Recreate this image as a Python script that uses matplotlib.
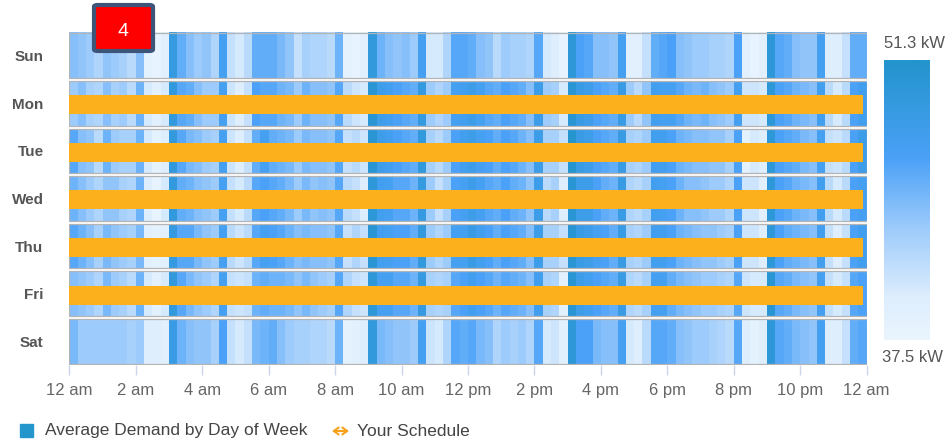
import matplotlib
matplotlib.use("Agg")
import matplotlib.pyplot as plt
import numpy as np
from matplotlib.colors import LinearSegmentedColormap
from matplotlib.patches import Rectangle, FancyBboxPatch, FancyArrowPatch

plt.rcParams['font.family'] = ['Liberation Sans', 'DejaVu Sans']

days = ["Sun", "Mon", "Tue", "Wed", "Thu", "Fri", "Sat"]
tick_labels = ["12 am", "2 am", "4 am", "6 am", "8 am", "10 am", "12 pm",
               "2 pm", "4 pm", "6 pm", "8 pm", "10 pm", "12 am"]
schedule_days = ["Mon", "Tue", "Wed", "Thu", "Fri"]
schedule_start = 0.0
schedule_end = 23.9
vmin, vmax = 37.5, 51.3

# Average demand (kW), 15-minute intervals, 96 per day
sun = [44, 43.5, 43, 42, 43.5, 43, 42.5, 41.5, 44, 38.5, 38, 39, 49, 45.5, 44, 43, 43.5, 42, 47, 41, 40, 41.5, 45.5, 45.5,
       45.5, 44.5, 43.5, 41, 42.5, 42, 42, 41.5, 45, 38.5, 38, 39, 49.5, 45, 44, 43.5, 44, 43, 47, 40, 40, 42, 46, 46,
       45.5, 44, 43.5, 41.5, 43, 42.5, 42.5, 42, 46, 40, 39.5, 38, 50, 46.5, 46, 44, 44, 43.5, 47, 39, 39, 41, 45.5, 46,
       46.5, 44, 43.5, 43, 43, 42.5, 42.5, 42, 46.5, 39, 38, 39, 50, 46, 45.5, 44, 43.5, 43.5, 47, 39.5, 39.5, 41, 45.5, 45.5]
mon = [43, 44, 42.5, 42, 44, 42.5, 43, 41.5, 45, 40, 39, 40, 49.5, 46, 45.5, 44, 43, 43, 47, 40.5, 39.5, 41, 46.5, 46,
       46, 45, 44.5, 43, 45, 44, 44, 43.5, 46, 41.5, 40.5, 40, 50.5, 48, 47.5, 46.5, 46, 45.5, 49, 43, 42, 43, 47, 47.5,
       48, 47, 46, 45.5, 46.5, 46, 45.5, 44, 48, 43, 42.5, 40, 50.5, 48.5, 48, 46.5, 46, 45.5, 48.5, 43, 41.5, 43.5, 47.5, 47,
       47, 46, 45, 44.5, 45, 44, 43.5, 43, 47, 40.5, 40.5, 40, 50, 46.5, 46, 45, 44.5, 44, 47.5, 41.5, 40, 41.5, 46.5, 47.5]
tue = [46, 44, 43.5, 41.5, 45, 43, 42.5, 42.5, 45, 40, 38.5, 39.5, 49.5, 46, 44.5, 44, 43, 42.5, 47, 40.5, 39.5, 41, 45.5, 47,
       45.5, 45, 44.5, 43, 44.5, 44, 44, 43.5, 46, 41, 41.5, 40.5, 50.5, 48, 47.5, 46.5, 46, 45.5, 49.5, 42.5, 41.5, 43, 46.5, 47.5,
       48, 47, 46.5, 45.5, 46.5, 46, 45, 44, 48, 42.5, 42.5, 41, 51, 48.5, 48, 46.5, 46, 45.5, 48.5, 42.5, 42, 43, 47.5, 47.5,
       46.5, 45, 44.5, 44, 44, 43.5, 43.5, 42.5, 46.5, 38.5, 40, 39.5, 50, 46.5, 46, 45.5, 44.5, 44, 47, 41, 40.5, 41.5, 46.5, 48]
wed = [45, 44, 43, 42, 43.5, 43.5, 42.5, 42, 45, 39.5, 38, 40, 49.5, 45.5, 45, 44, 43.5, 43, 47, 41, 40, 41.5, 46, 46.5,
       46, 45.5, 44.5, 43, 44.5, 43.5, 44, 43.5, 46, 41.5, 41, 39.5, 50, 47.5, 47, 46, 46, 45, 49, 43, 41, 42.5, 46.5, 47,
       48, 47, 46, 45.5, 46.5, 45.5, 45, 43.5, 48, 41.5, 42.5, 39.5, 50.5, 48, 48, 46.5, 45.5, 45, 48.5, 42, 41.5, 42.5, 47.5, 47,
       46.5, 45, 44, 44, 43.5, 43, 43, 42, 46.5, 40.5, 40.5, 39, 50, 46.5, 46, 45, 44.5, 44, 47.5, 41.5, 40, 41.5, 46.5, 47]
thu = [46, 45, 44, 42.5, 44.5, 43.5, 43, 42.5, 44.5, 39, 38.5, 39, 49, 46, 46, 44.5, 43.5, 43, 47, 41.5, 40.5, 41.5, 46, 47,
       46.5, 46, 45, 44, 44.5, 44, 44, 43.5, 46, 41, 42, 41, 50.5, 47.5, 47, 46.5, 46.5, 45.5, 49.5, 43, 42, 43, 47, 47,
       48.5, 47.5, 46.5, 45.5, 46.5, 46, 45.5, 44, 48, 42.5, 42.5, 41, 50.5, 48.5, 48, 47, 46.5, 45.5, 48.5, 42.5, 42, 43, 47.5, 47.5,
       46.5, 45, 44.5, 44, 43.5, 43.5, 43, 42.5, 46.5, 40.5, 40.5, 39.5, 50, 46.5, 45.5, 45, 44.5, 44, 47.5, 41, 39.5, 41, 46.5, 47.5]
fri = [44, 43.5, 43, 42, 44.5, 43, 42.5, 41.5, 45, 40, 39, 40, 49.5, 46, 44.5, 43.5, 43, 42, 47, 41, 40.5, 41, 45, 45.5,
       45, 45, 44.5, 43.5, 44.5, 43.5, 43, 42.5, 46, 42, 41, 40.5, 50, 47, 47, 46, 46, 45, 49, 42.5, 42, 42.5, 46, 46.5,
       47.5, 46.5, 46, 45, 46, 45.5, 45, 44, 47.5, 42.5, 42, 39, 50.5, 48, 47.5, 46.5, 46, 45.5, 48.5, 42, 41.5, 42.5, 47, 47,
       45.5, 44.5, 44, 43.5, 43, 43, 42.5, 42, 46, 40.5, 40, 40, 50.5, 46, 45.5, 44.5, 44, 43.5, 47, 41, 40, 41, 46, 46.5]
sat = [44.5, 43, 43, 43, 43, 43, 43, 42.5, 43, 39.5, 39.5, 39, 48.5, 45, 44, 43.5, 43.5, 42.5, 46.5, 41, 40, 41, 44.5, 45,
       45.5, 44, 43, 42.5, 42.5, 42, 42, 41.5, 45, 38.5, 39, 39.5, 49.5, 44.5, 44, 43.5, 43.5, 43, 47, 40.5, 40, 42, 46, 45.5,
       46, 44.5, 44, 42, 43, 42.5, 43, 42, 46, 40, 40.5, 39, 50, 46.5, 46.5, 44.5, 44, 44, 47, 40, 39.5, 41.5, 46, 46,
       45.5, 44, 43.5, 43, 43, 42.5, 42, 41.5, 46, 39.5, 38.5, 39.5, 50, 46, 45.5, 44.5, 44, 43.5, 47, 39.5, 39.5, 41, 45.5, 46]

W, H = 951, 443
fig = plt.figure(figsize=(W / 100, H / 100), dpi=100)

def fx(px):
    return px / W

def fy(py):
    return 1 - py / H

cmap = LinearSegmentedColormap.from_list(
    "demand", [(0.0, "#eaf5fe"), (0.15, "#deeefd"), (0.4, "#9dcbfb"),
               (0.65, "#4ba1f7"), (1.0, "#2394cc")])

ax = fig.add_axes([fx(69.3), fy(365), fx(866.7) - fx(69.3), fy(32) - fy(365)])
data = np.array([sun, mon, tue, wed, thu, fri, sat], dtype=float)
xedges = np.linspace(0, 24, data.shape[1] + 1)
yedges = np.arange(len(days) + 1)
ax.pcolormesh(xedges, yedges, data, cmap=cmap, vmin=vmin, vmax=vmax, shading="flat")
ax.set_xlim(0, 24)
ax.set_ylim(len(days), 0)

# row separators
for i in range(1, len(days)):
    ax.axhline(i, color="white", lw=2.2, zorder=3)
for i in range(len(days)):
    ax.add_patch(Rectangle((0, i + 0.03), 24, 0.94, fill=False,
                           edgecolor="#b4b4b4", lw=0.9, zorder=4))

# schedule bars
for d in schedule_days:
    i = days.index(d)
    ax.barh(i + 0.53, schedule_end - schedule_start, left=schedule_start,
            height=0.40, color="#fbb01c", zorder=5)

for s in ax.spines.values():
    s.set_visible(False)
ax.set_xticks(np.arange(0, 25, 2))
ax.set_xticklabels(tick_labels, fontsize=12, color="#666666")
ax.tick_params(axis="x", length=7, width=1, color="#ccd6eb", pad=6)
ax.set_yticks(np.arange(len(days)) + 0.5)
ax.set_yticklabels(days, fontsize=11, fontweight="bold", color="#555555")
ax.tick_params(axis="y", length=0, pad=18.5)
for lbl in ax.get_yticklabels():
    lbl.set_horizontalalignment("right")

# colorbar
cax = fig.add_axes([fx(884), fy(340), fx(930) - fx(884), fy(60) - fy(340)])
grad = np.linspace(vmin, vmax, 256).reshape(-1, 1)
cax.imshow(grad, aspect="auto", cmap=cmap, vmin=vmin, vmax=vmax, origin="lower",
           extent=[0, 1, vmin, vmax])
cax.set_xticks([])
cax.set_yticks([])
for s in cax.spines.values():
    s.set_visible(False)
fig.text(fx(914), fy(44), f"{vmax} kW", ha="center", va="center", fontsize=12, color="#555555")
fig.text(fx(912), fy(357), f"{vmin} kW", ha="center", va="center", fontsize=12, color="#555555")

# legend
fig.add_artist(Rectangle((fx(20), fy(437)), fx(13), fy(424) - fy(437),
                         transform=fig.transFigure, color="#2596cc"))
fig.text(fx(45), fy(431), "Average Demand by Day of Week", ha="left", va="center",
         fontsize=12.5, color="#444444")
fig.add_artist(FancyArrowPatch(
    (fx(332), fy(431)), (fx(349), fy(431)), transform=fig.transFigure,
    arrowstyle="<->,head_length=0.35,head_width=0.25", mutation_scale=10,
    shrinkA=0, shrinkB=0, color="#f7a21b", lw=1.5))
fig.text(fx(357), fy(431), "Your Schedule", ha="left", va="center",
         fontsize=12.5, color="#444444")

# annotation badge
fig.add_artist(FancyBboxPatch((fx(94), fy(51)), fx(59), fy(5) - fy(51),
                              boxstyle="round,pad=0,rounding_size=0.004",
                              transform=fig.transFigure, facecolor="#ff0000",
                              edgecolor="#3d5578", lw=3, zorder=10))
fig.text(fx(123.5), fy(32), "4", ha="center", va="center", fontsize=14,
         color="white", zorder=11)

fig.savefig("out.png", dpi=100)
